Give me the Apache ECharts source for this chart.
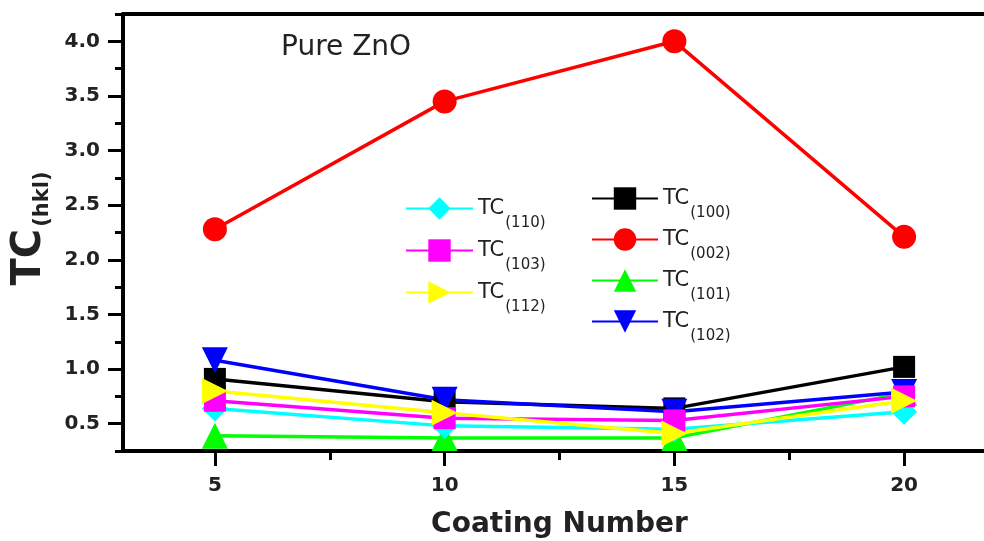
<!DOCTYPE html>
<html>
<head>
<meta charset="utf-8">
<script src="https://cdn.jsdelivr.net/npm/echarts@6/dist/echarts.min.js"></script>
<style>
  html, body { margin: 0; padding: 0; background: #fff; }
  #main { width: 984px; height: 541px; }
</style>
</head>
<body>
<div id="main"></div>
<script>
// coating number on x, texture coefficient per plane on y
let coating = [5, 10, 15, 20];
let tc100 = [0.91, 0.70, 0.64, 1.02];
let tc002 = [2.28, 3.45, 4.00, 2.21];
let tc101 = [0.39, 0.37, 0.37, 0.78];
let tc102 = [1.08, 0.72, 0.61, 0.79];
let tc110 = [0.64, 0.48, 0.45, 0.61];
let tc103 = [0.71, 0.55, 0.53, 0.75];
let tc112 = [0.80, 0.60, 0.41, 0.71];

let xTicks = [5, 10, 15, 20];
let xMinor = [7.5, 12.5, 17.5];
let yTicks = [0.5, 1.0, 1.5, 2.0, 2.5, 3.0, 3.5, 4.0];
let yMinor = [0.25, 0.75, 1.25, 1.75, 2.25, 2.75, 3.25, 3.75, 4.25];

let font = 'DejaVu Sans';
let ink = '#222';

function pairs(ys) {
    return ys.map(function (v, i) { return [coating[i], v]; });
}

function mkSeries(name, ys, color, symbol, size, rotate) {
    return {
        name: name,
        type: 'line',
        data: pairs(ys),
        symbol: symbol,
        symbolSize: size,
        symbolRotate: rotate || 0,
        showAllSymbol: true,
        lineStyle: { color: color, width: 3.5 },
        itemStyle: { color: color },
        emphasis: { disabled: true },
        animation: false
    };
}

let legendRich = {
    a: { fontFamily: font, fontSize: 21, color: ink, lineHeight: 30 },
    s: { fontFamily: font, fontSize: 15, color: ink, lineHeight: 30, padding: [30, 0, 0, 1] }
};
function legendFmt(name) {
    let m = name.match(/TC\((\d+)\)/);
    return '{a|TC}{s|(' + m[1] + ')}';
}

let myChart = echarts.init(document.getElementById('main'));
let option = {
    backgroundColor: '#fff',
    animation: false,
    title: {
        text: 'Pure ZnO',
        left: 276,
        top: 29,
        textStyle: { fontFamily: font, fontSize: 28, fontWeight: 'normal', color: ink }
    },
    grid: { left: 123, top: 14, right: -12, bottom: 90, outerBoundsMode: 'none' },
    legend: [
        {
            data: ['TC(110)', 'TC(103)', 'TC(112)'],
            orient: 'vertical',
            left: 400,
            top: 181,
            itemWidth: 67,
            itemHeight: 28,
            itemGap: -3,
            formatter: legendFmt,
            textStyle: { rich: legendRich },
            selectedMode: false
        },
        {
            data: ['TC(100)', 'TC(002)', 'TC(101)', 'TC(102)'],
            orient: 'vertical',
            left: 586,
            top: 171,
            itemWidth: 66,
            itemHeight: 28,
            itemGap: -4,
            formatter: legendFmt,
            textStyle: { rich: legendRich },
            selectedMode: false
        }
    ],
    xAxis: [
        {
            type: 'value',
            min: 3,
            max: 22,
            position: 'bottom',
            name: 'Coating Number',
            nameLocation: 'middle',
            nameGap: 60,
            nameTextStyle: { fontFamily: font, fontSize: 28, fontWeight: 'bold', color: ink },
            axisLine: { lineStyle: { color: '#000', width: 4 } },
            axisTick: { customValues: xTicks, length: 15, lineStyle: { color: '#000', width: 3 } },
            axisLabel: {
                customValues: xTicks,
                margin: 25,
                fontFamily: font, fontSize: 20, fontWeight: 'bold', color: ink
            },
            splitLine: { show: false }
        },
        {
            type: 'value',
            min: 3,
            max: 22,
            position: 'bottom',
            axisLine: { show: false },
            axisTick: { customValues: xMinor, length: 9, lineStyle: { color: '#000', width: 3 } },
            axisLabel: { show: false },
            splitLine: { show: false }
        },
        {
            type: 'value',
            min: 3,
            max: 22,
            position: 'top',
            axisLine: { lineStyle: { color: '#000', width: 4 } },
            axisTick: { show: false },
            axisLabel: { show: false },
            splitLine: { show: false }
        }
    ],
    yAxis: [
        {
            type: 'value',
            min: 0.25,
            max: 4.25,
            position: 'left',
            name: '{a|TC}{s|(hkl)}',
            nameLocation: 'middle',
            nameGap: 70,
            nameTextStyle: {
                padding: [0, 0, 0, 8],
                rich: {
                    a: { fontFamily: font, fontSize: 40, fontWeight: 'bold', color: ink, lineHeight: 46 },
                    s: { fontFamily: font, fontSize: 21, fontWeight: 'bold', color: ink, lineHeight: 46, padding: [26, 0, 0, 2] }
                }
            },
            axisLine: { lineStyle: { color: '#000', width: 4 } },
            axisTick: { customValues: yTicks, length: 15, lineStyle: { color: '#000', width: 3 } },
            axisLabel: {
                customValues: yTicks,
                margin: 23,
                formatter: function (v) { return v.toFixed(1); },
                fontFamily: font, fontSize: 20, fontWeight: 'bold', color: ink
            },
            splitLine: { show: false }
        },
        {
            type: 'value',
            min: 0.25,
            max: 4.25,
            position: 'left',
            axisLine: { show: false },
            axisTick: { customValues: yMinor, length: 8, lineStyle: { color: '#000', width: 3 } },
            axisLabel: { show: false },
            splitLine: { show: false }
        }
    ],
    series: [
        mkSeries('TC(100)', tc100, '#000000', 'rect', 22),
        mkSeries('TC(002)', tc002, '#ff0000', 'circle', 24),
        mkSeries('TC(101)', tc101, '#00ff00', 'triangle', 26),
        mkSeries('TC(102)', tc102, '#0000ff', 'triangle', 26, 180),
        mkSeries('TC(110)', tc110, '#00ffff', 'diamond', 26),
        mkSeries('TC(103)', tc103, '#ff00ff', 'rect', 22),
        mkSeries('TC(112)', tc112, '#ffff00', 'triangle', 26, -90)
    ]
};
myChart.setOption(option);
</script>
</body>
</html>
